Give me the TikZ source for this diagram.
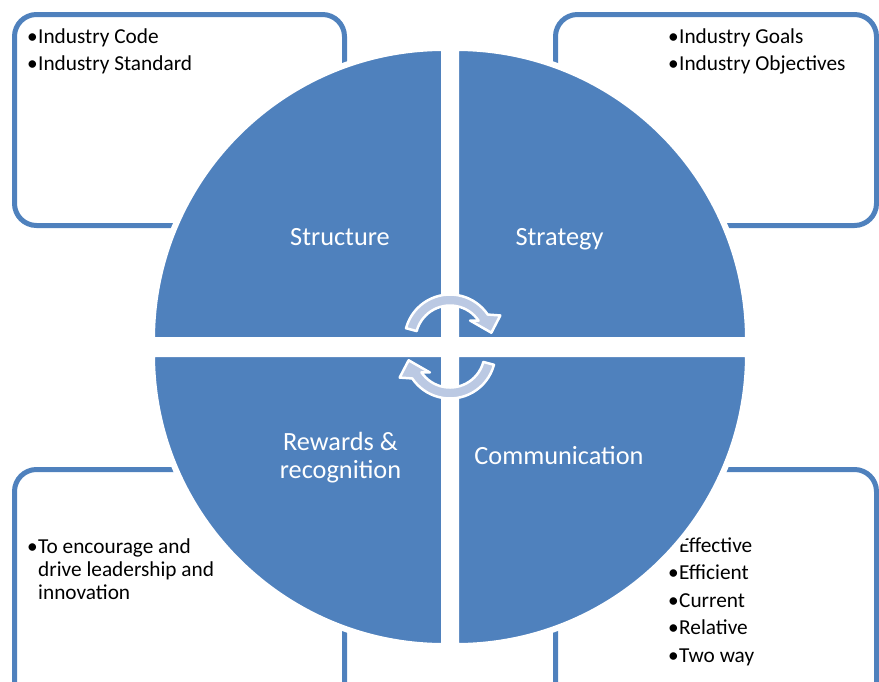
\documentclass[tikz,border=0pt]{standalone}
\usepackage{fontspec}
\setmainfont{Carlito}
\definecolor{qblue}{RGB}{79,129,189}
\definecolor{arrowfill}{RGB}{187,201,227}
\tikzset{
  quad/.style={fill=qblue, draw=white, line width=6pt},
  boxframe/.style={draw=qblue, line width=5pt, rounded corners=22pt},
  item/.style={anchor=base west, inner sep=0pt, font=\fontsize{21.3}{25}\selectfont, text=black},
  qlabel/.style={anchor=base, inner sep=0pt, font=\fontsize{26.3}{28}\selectfont, text=white},
  cyc/.style={fill=arrowfill, draw=white, line width=2.5pt, line join=round},
}
\newcommand{\bulmark}{\makebox[11pt][l]{•}}
\begin{document}
\begin{tikzpicture}[x=1pt,y=-1pt]
\useasboundingbox (0,0) rectangle (879,681);
\clip (0,0) rectangle (879,681);
% frames
\draw[boxframe] (14.5,14.5) rectangle (344.5,225.5);
\draw[boxframe] (555.5,14.5) rectangle (876.5,225.5);
\draw[boxframe] (14.5,469.5) rectangle (344.5,710);
\draw[boxframe] (555.5,469.5) rectangle (876.5,710);
% box texts
\node[item] (tl1) at (27,43) {\bulmark Industry Code};
\node[item] (tl2) at (27,70) {\bulmark Industry Standard};
\node[item] (tr1) at (668,43) {\bulmark Industry Goals};
\node[item] (tr2) at (668,70) {\bulmark Industry Objectives};
\node[item] (bl1) at (27,553) {\bulmark To encourage and};
\node[item] (bl2) at (38,576) {drive leadership and};
\node[item] (bl3) at (38,599) {innovation};
\node[item] (br1) at (668,552) {\bulmark Effective};
\node[item] (br2) at (668,579.5) {\bulmark Efficient};
\node[item] (br3) at (668,607) {\bulmark Current};
\node[item] (br4) at (668,634.5) {\bulmark Relative};
\node[item] (br5) at (668,662) {\bulmark Two way};
% quadrants
\path[quad] (444,340) -- ++(-292pt,0pt) arc[start angle=180, end angle=90, radius=292pt] -- cycle;
\path[quad] (456,340) -- ++(292pt,0pt) arc[start angle=0, end angle=90, radius=292pt] -- cycle;
\path[quad] (444,354) -- ++(-292pt,0pt) arc[start angle=180, end angle=270, radius=292pt] -- cycle;
\path[quad] (456,354) -- ++(292pt,0pt) arc[start angle=0, end angle=-90, radius=292pt] -- cycle;
% cycle arrows
\begin{scope}[shift={(450,340)}]
  \path[cyc] (165:45.5pt) arc[start angle=165, end angle=34, radius=45.5pt]
     -- (26:56pt) -- (10:42pt) -- (44:28pt) -- (34:34.5pt)
     arc[start angle=34, end angle=165, radius=34.5pt] -- cycle;
\end{scope}
\begin{scope}[shift={(450,353)}, rotate=180]
  \path[cyc] (165:45.5pt) arc[start angle=165, end angle=34, radius=45.5pt]
     -- (26:56pt) -- (10:42pt) -- (44:28pt) -- (34:34.5pt)
     arc[start angle=34, end angle=165, radius=34.5pt] -- cycle;
\end{scope}
% quadrant labels
\node[qlabel] (structure) at (340,245.5) {Structure};
\node[qlabel] (strategy) at (559.5,245.5) {Strategy};
\node[qlabel] (rewards) at (340.5,450.5) {Rewards \&};
\node[qlabel] (recog) at (340.5,478.5) {recognition};
\node[qlabel] (comm) at (559,464.5) {Communication};
\end{tikzpicture}
\end{document}
